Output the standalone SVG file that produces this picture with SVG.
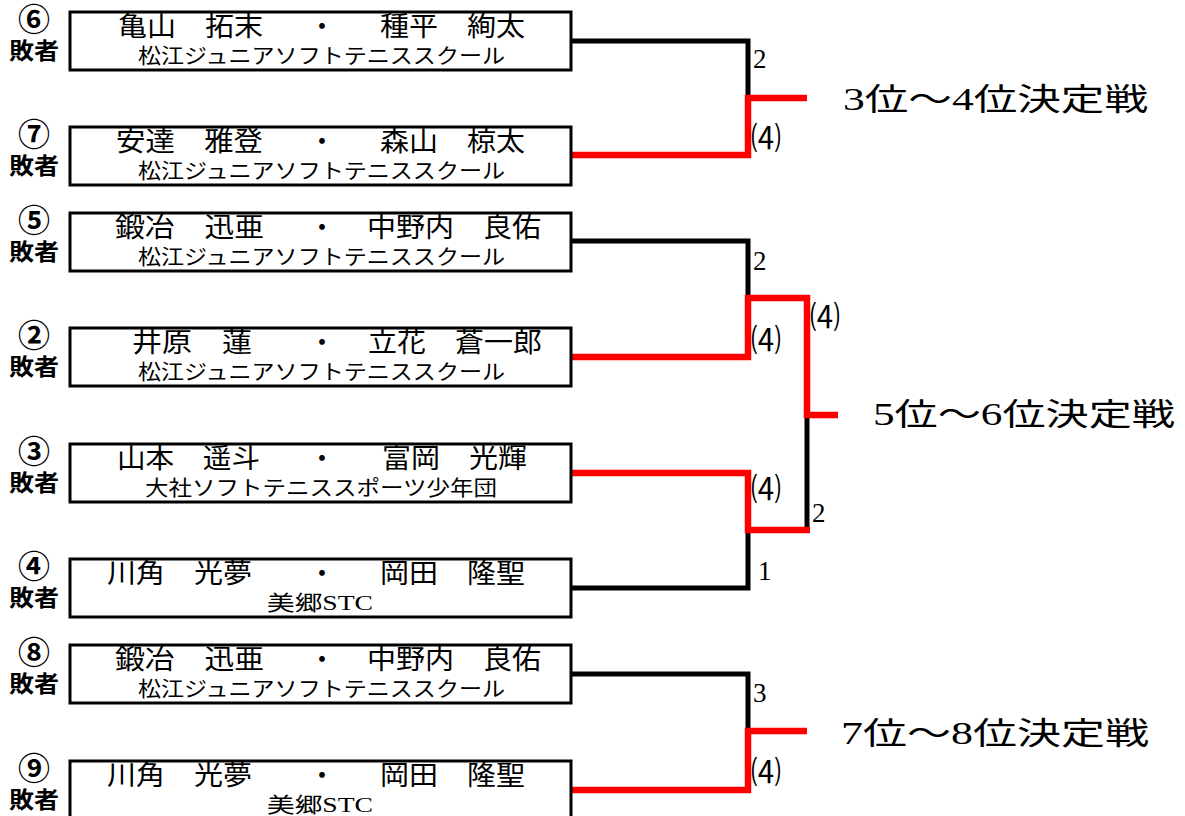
<svg xmlns="http://www.w3.org/2000/svg" width="1185" height="816" viewBox="0 0 1185 816">
<style>
.bg{fill:#fff}
.box{fill:#fff;stroke:#000;stroke-width:3}
.t{font-family:"Liberation Serif","Noto Sans CJK JP",serif;fill:#000}
.nm{font-size:27px}
.sub{font-size:21px}
.dot{font-family:"Noto Sans CJK JP",sans-serif;font-size:27px;text-anchor:middle}
.cnum{font-family:"Noto Sans CJK JP",sans-serif;font-weight:bold;font-size:32px;text-anchor:middle}
.lose{font-family:"Noto Sans CJK JP",sans-serif;font-weight:bold;font-size:23px}
.ln{fill:none;stroke-linejoin:miter;stroke-linecap:butt}
.blk{stroke:#000;stroke-width:5}
.red{stroke:#f00;stroke-width:6.5}
.sc{font-family:"Liberation Serif","Noto Sans CJK JP",serif;font-size:27px;fill:#000}
.pc{font-family:"Noto Sans CJK JP",sans-serif;font-size:31px;fill:#000}
.ttl{font-family:"Liberation Serif","Noto Sans CJK JP",serif;font-size:31px;fill:#000}
</style>
<rect class="bg" x="0" y="0" width="1185" height="816"/>

<g id="connectors">
  <path class="ln blk" d="M572,41 H748 V98"/>
  <path class="ln red" d="M572,155 H748 V98 H807"/>
  <path class="ln blk" d="M572,241 H748 V298"/>
  <path class="ln blk" d="M572,588 H748 V530"/>
  <path class="ln blk" d="M807,530 V415"/>
  <path class="ln red" d="M572,357 H748 V298 H807 V415 H838"/>
  <path class="ln red" d="M572,473 H748 V530 H810"/>
  <path class="ln blk" d="M572,674 H748 V731"/>
  <path class="ln red" d="M572,790 H748 V731 H807"/>
  <text class="sc" x="753" y="68">2</text>
  <text class="pc" x="751" y="149" textLength="30" lengthAdjust="spacingAndGlyphs">⑷</text>
  <text class="sc" x="753" y="270">2</text>
  <text class="pc" x="751" y="351" textLength="30" lengthAdjust="spacingAndGlyphs">⑷</text>
  <text class="pc" x="810" y="328" textLength="30" lengthAdjust="spacingAndGlyphs">⑷</text>
  <text class="pc" x="751" y="500" textLength="30" lengthAdjust="spacingAndGlyphs">⑷</text>
  <text class="sc" x="812" y="522">2</text>
  <text class="sc" x="758" y="580">1</text>
  <text class="sc" x="753" y="702">3</text>
  <text class="pc" x="751" y="783" textLength="30" lengthAdjust="spacingAndGlyphs">⑷</text>
</g>

<g id="title34"><text class="ttl" x="843" y="110" textLength="305" lengthAdjust="spacingAndGlyphs">3位～4位決定戦</text></g>
<g id="title56"><text class="ttl" x="873" y="425" textLength="302" lengthAdjust="spacingAndGlyphs">5位～6位決定戦</text></g>
<g id="title78"><text class="ttl" x="841" y="744" textLength="308" lengthAdjust="spacingAndGlyphs">7位～8位決定戦</text></g>

<g id="n6" transform="translate(0,12)">
  <rect class="box" x="70" y="0" width="501" height="58"/>
  <text class="cnum" x="34" y="19">⑥</text>
  <text class="lose" x="9" y="47" textLength="50" lengthAdjust="spacingAndGlyphs">敗者</text>
  <text class="t nm" x="118" y="24" textLength="145" lengthAdjust="spacingAndGlyphs">亀山　拓末</text>
  <text class="dot" x="322" y="24">・</text>
  <text class="t nm" x="380" y="24" textLength="145" lengthAdjust="spacingAndGlyphs">種平　絢太</text>
  <text class="t sub" x="138" y="51" textLength="367" lengthAdjust="spacingAndGlyphs">松江ジュニアソフトテニススクール</text>
</g>

<g id="n7" transform="translate(0,127)">
  <rect class="box" x="70" y="0" width="501" height="58"/>
  <text class="cnum" x="34" y="19">⑦</text>
  <text class="lose" x="9" y="47" textLength="50" lengthAdjust="spacingAndGlyphs">敗者</text>
  <text class="t nm" x="116" y="24" textLength="147" lengthAdjust="spacingAndGlyphs">安達　雅登</text>
  <text class="dot" x="322" y="24">・</text>
  <text class="t nm" x="380" y="24" textLength="145" lengthAdjust="spacingAndGlyphs">森山　椋太</text>
  <text class="t sub" x="138" y="51" textLength="367" lengthAdjust="spacingAndGlyphs">松江ジュニアソフトテニススクール</text>
</g>

<g id="n5" transform="translate(0,213)">
  <rect class="box" x="70" y="0" width="501" height="58"/>
  <text class="cnum" x="34" y="19">⑤</text>
  <text class="lose" x="9" y="47" textLength="50" lengthAdjust="spacingAndGlyphs">敗者</text>
  <text class="t nm" x="115" y="24" textLength="149" lengthAdjust="spacingAndGlyphs">鍛冶　迅亜</text>
  <text class="dot" x="322" y="24">・</text>
  <text class="t nm" x="367" y="24" textLength="174" lengthAdjust="spacingAndGlyphs">中野内　良佑</text>
  <text class="t sub" x="138" y="51" textLength="367" lengthAdjust="spacingAndGlyphs">松江ジュニアソフトテニススクール</text>
</g>

<g id="n2" transform="translate(0,328)">
  <rect class="box" x="70" y="0" width="501" height="58"/>
  <text class="cnum" x="34" y="19">②</text>
  <text class="lose" x="9" y="47" textLength="50" lengthAdjust="spacingAndGlyphs">敗者</text>
  <text class="t nm" x="132" y="24" textLength="120" lengthAdjust="spacingAndGlyphs">井原　蓮</text>
  <text class="dot" x="322" y="24">・</text>
  <text class="t nm" x="368" y="24" textLength="174" lengthAdjust="spacingAndGlyphs">立花　蒼一郎</text>
  <text class="t sub" x="138" y="51" textLength="367" lengthAdjust="spacingAndGlyphs">松江ジュニアソフトテニススクール</text>
</g>

<g id="n3" transform="translate(0,444)">
  <rect class="box" x="70" y="0" width="501" height="58"/>
  <text class="cnum" x="34" y="19">③</text>
  <text class="lose" x="9" y="47" textLength="50" lengthAdjust="spacingAndGlyphs">敗者</text>
  <text class="t nm" x="117" y="24" textLength="143" lengthAdjust="spacingAndGlyphs">山本　遥斗</text>
  <text class="dot" x="322" y="24">・</text>
  <text class="t nm" x="382" y="24" textLength="145" lengthAdjust="spacingAndGlyphs">富岡　光輝</text>
  <text class="t sub" x="145" y="51" textLength="352" lengthAdjust="spacingAndGlyphs">大社ソフトテニススポーツ少年団</text>
</g>

<g id="n4" transform="translate(0,559)">
  <rect class="box" x="70" y="0" width="501" height="58"/>
  <text class="cnum" x="34" y="19">④</text>
  <text class="lose" x="9" y="47" textLength="50" lengthAdjust="spacingAndGlyphs">敗者</text>
  <text class="t nm" x="107" y="24" textLength="145" lengthAdjust="spacingAndGlyphs">川角　光夢</text>
  <text class="dot" x="322" y="24">・</text>
  <text class="t nm" x="380" y="24" textLength="145" lengthAdjust="spacingAndGlyphs">岡田　隆聖</text>
  <text class="t sub" x="267" y="51" textLength="106" lengthAdjust="spacingAndGlyphs">美郷STC</text>
</g>

<g id="n8" transform="translate(0,645)">
  <rect class="box" x="70" y="0" width="501" height="58"/>
  <text class="cnum" x="34" y="19">⑧</text>
  <text class="lose" x="9" y="47" textLength="50" lengthAdjust="spacingAndGlyphs">敗者</text>
  <text class="t nm" x="115" y="24" textLength="149" lengthAdjust="spacingAndGlyphs">鍛冶　迅亜</text>
  <text class="dot" x="322" y="24">・</text>
  <text class="t nm" x="367" y="24" textLength="174" lengthAdjust="spacingAndGlyphs">中野内　良佑</text>
  <text class="t sub" x="138" y="51" textLength="367" lengthAdjust="spacingAndGlyphs">松江ジュニアソフトテニススクール</text>
</g>

<g id="n9" transform="translate(0,761)">
  <rect class="box" x="70" y="0" width="501" height="58"/>
  <text class="cnum" x="34" y="19">⑨</text>
  <text class="lose" x="9" y="47" textLength="50" lengthAdjust="spacingAndGlyphs">敗者</text>
  <text class="t nm" x="107" y="24" textLength="145" lengthAdjust="spacingAndGlyphs">川角　光夢</text>
  <text class="dot" x="322" y="24">・</text>
  <text class="t nm" x="380" y="24" textLength="145" lengthAdjust="spacingAndGlyphs">岡田　隆聖</text>
  <text class="t sub" x="267" y="51" textLength="106" lengthAdjust="spacingAndGlyphs">美郷STC</text>
</g>
</svg>
